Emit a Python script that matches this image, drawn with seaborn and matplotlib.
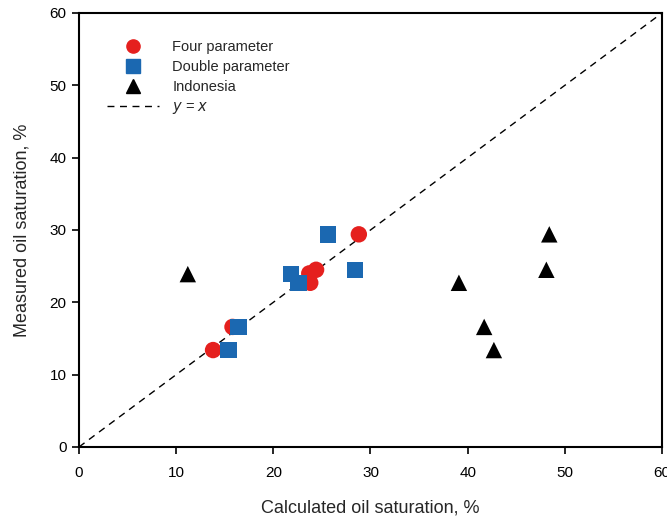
import matplotlib
matplotlib.use("Agg")
import matplotlib.pyplot as plt
from matplotlib.lines import Line2D
import seaborn as sns
import pandas as pd

# ---- data ----
four_x = [13.8, 15.8, 23.7, 24.4, 23.8, 28.8]
four_y = [13.4, 16.6, 24.0, 24.5, 22.7, 29.4]
double_x = [15.4, 16.4, 21.8, 22.6, 25.6, 28.4]
double_y = [13.4, 16.6, 23.9, 22.7, 29.4, 24.5]
indo_x = [11.2, 39.1, 41.7, 42.7, 48.1, 48.4]
indo_y = [23.9, 22.7, 16.6, 13.4, 24.5, 29.4]
line_x = [0, 60]
line_y = [0, 60]
ticks = [0, 10, 20, 30, 40, 50, 60]
series_names = ["Four parameter", "Double parameter", "Indonesia"]

df = pd.DataFrame({
    "x": four_x + double_x + indo_x,
    "y": four_y + double_y + indo_y,
    "method": [series_names[0]] * len(four_x) + [series_names[1]] * len(double_x)
              + [series_names[2]] * len(indo_x),
})

sns.set_theme(style="ticks")
plt.rcParams["font.family"] = ["Liberation Sans", "DejaVu Sans"]

colors = {series_names[0]: "#E5201E", series_names[1]: "#1B68B1", series_names[2]: "#000000"}
markers = {series_names[0]: "o", series_names[1]: "s", series_names[2]: "^"}

fig = plt.figure(figsize=(6.67, 5.2), dpi=100)
ax = fig.add_axes([0.1184, 0.1404, 0.8741, 0.8346])

sns.lineplot(x=line_x, y=line_y, ax=ax, color="black", linewidth=1.0,
             linestyle=(0, (5, 4)), legend=False)
sns.scatterplot(data=df, x="x", y="y", hue="method", style="method",
                palette=colors, markers=markers, s=140, linewidth=0,
                ax=ax, legend=False, zorder=3)

ax.set_xlim(0, 60)
ax.set_ylim(0, 60)
ax.set_xticks(ticks)
ax.set_yticks(ticks)
ax.tick_params(axis="both", direction="out", length=5, width=1.2,
               labelsize=11, colors="black", top=False, right=False)
ax.tick_params(axis="x", pad=9)
ax.tick_params(axis="y", pad=4)
for sp in ax.spines.values():
    sp.set_visible(True)
    sp.set_linewidth(1.5)
    sp.set_color("black")

ax.set_xlabel("Calculated oil saturation, %", fontsize=13, labelpad=14)
ax.set_ylabel("Measured oil saturation, %", fontsize=13, labelpad=14)

handles = [
    Line2D([], [], marker="o", color=colors[series_names[0]], linestyle="none", markersize=9.5),
    Line2D([], [], marker="s", color=colors[series_names[1]], linestyle="none", markersize=9.5),
    Line2D([], [], marker="^", color=colors[series_names[2]], linestyle="none", markersize=9.5),
    Line2D([], [], color="black", linestyle=(0, (5, 4)), linewidth=1.0),
]
labels = series_names + ["$y$ = $x$"]
leg = ax.legend(handles, labels, loc="upper left", bbox_to_anchor=(0.025, 0.968),
                frameon=False, fontsize=10.5, handlelength=3.6, handletextpad=0.9,
                labelspacing=0.42)

fig.savefig("out.png", dpi=100)
